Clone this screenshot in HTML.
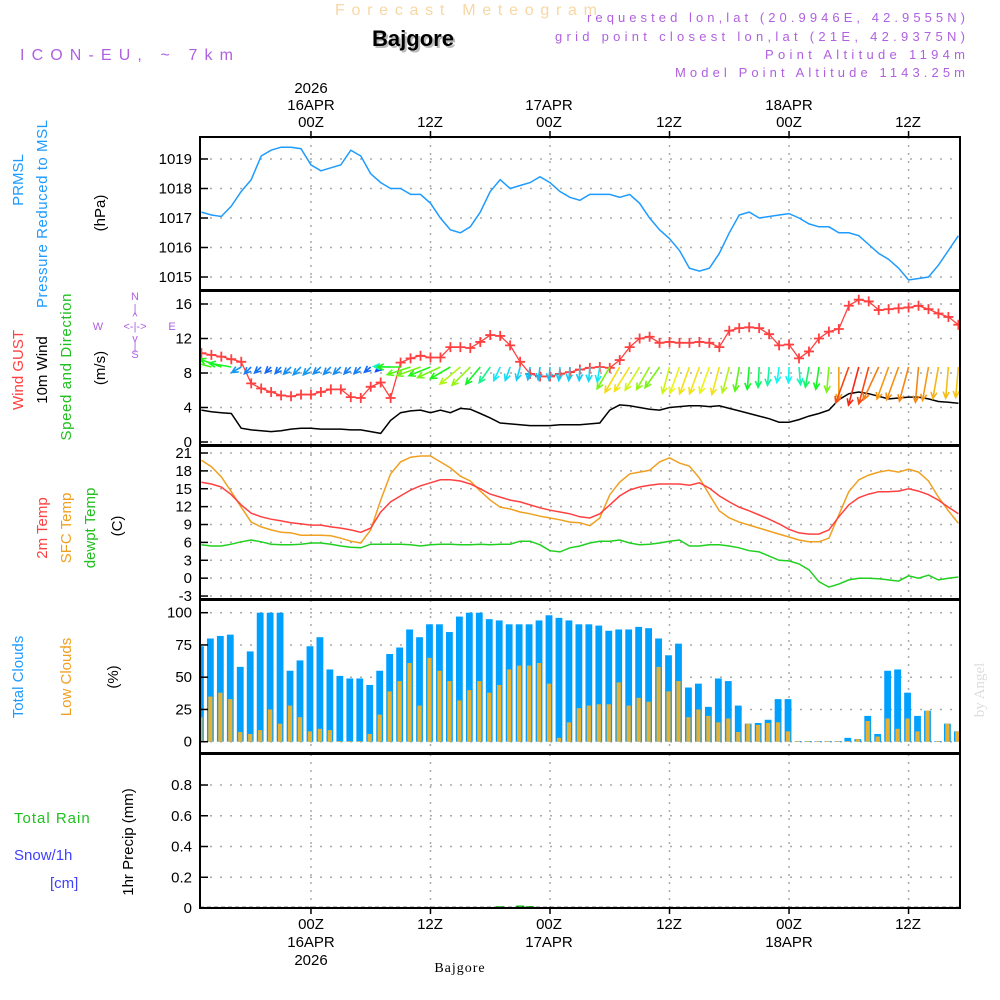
<!DOCTYPE html>
<html><head><meta charset="utf-8"><title>Meteogram Bajgore</title>
<style>
html,body{margin:0;padding:0;background:#fff;}
svg{display:block;font-family:"Liberation Sans",sans-serif;}
</style></head>
<body>
<svg id="chart" width="1000" height="1000" viewBox="0 0 1000 1000" xmlns="http://www.w3.org/2000/svg">
<defs>
<clipPath id="cp1"><rect x="200" y="137" width="760" height="153"/></clipPath>
<clipPath id="cp2"><rect x="200" y="291" width="760" height="154"/></clipPath>
<clipPath id="cp3"><rect x="200" y="446" width="760" height="153"/></clipPath>
<clipPath id="cp4"><rect x="200" y="600" width="760" height="153"/></clipPath>
<clipPath id="cp5"><rect x="200" y="754" width="760" height="154"/></clipPath>
</defs>
<rect x="0" y="0" width="1000" height="1000" fill="#fff"/>
<text x="335" y="15" font-size="16" textLength="262" lengthAdjust="spacing" fill="#f7d7a4">Forecast Meteogram</text>
<text x="415" y="48" text-anchor="middle" font-size="22" font-weight="bold" fill="#bbb">Bajgore</text>
<text x="413" y="46" text-anchor="middle" font-size="22" font-weight="bold" fill="#000">Bajgore</text>
<text x="20" y="60" font-size="16" textLength="213" lengthAdjust="spacing" fill="#b060e0">ICON-EU, ~ 7km</text>
<g font-size="13" fill="#b060e0">
<text x="587" y="22" textLength="378" lengthAdjust="spacing">requested lon,lat (20.9946E, 42.9555N)</text>
<text x="555" y="41" textLength="410" lengthAdjust="spacing">grid point closest lon,lat (21E, 42.9375N)</text>
<text x="765" y="59" textLength="200" lengthAdjust="spacing">Point Altitude 1194m</text>
<text x="675" y="77" textLength="290" lengthAdjust="spacing">Model Point Altitude 1143.25m</text>
</g>
<g font-size="15" text-anchor="middle" fill="#000">
<text x="311" y="93">2026</text><text x="311" y="110">16APR</text><text x="311" y="127">00Z</text>
<text x="430" y="127">12Z</text>
<text x="549" y="110">17APR</text><text x="549" y="127">00Z</text>
<text x="669" y="127">12Z</text>
<text x="789" y="110">18APR</text><text x="789" y="127">00Z</text>
<text x="908" y="127">12Z</text>
</g>
<g font-size="15" text-anchor="middle" fill="#000">
<text x="311" y="929">00Z</text><text x="311" y="947">16APR</text><text x="311" y="965">2026</text>
<text x="430" y="929">12Z</text>
<text x="549" y="929">00Z</text><text x="549" y="947">17APR</text>
<text x="669" y="929">12Z</text>
<text x="789" y="929">00Z</text><text x="789" y="947">18APR</text>
<text x="908" y="929">12Z</text>
</g>
<text x="460" y="972" text-anchor="middle" font-size="14" font-family="Liberation Serif,serif" letter-spacing="1">Bajgore</text>
<text transform="translate(984,690) rotate(-90)" text-anchor="middle" font-size="15" font-family="Liberation Serif,serif" fill="#ddd">by Angel</text>

<g font-size="15">
<text transform="translate(23,180) rotate(-90)" text-anchor="middle" fill="#1e9bff">PRMSL</text>
<text transform="translate(47,214) rotate(-90)" text-anchor="middle" fill="#1e9bff" textLength="188" lengthAdjust="spacing">Pressure Reduced to MSL</text>
<text transform="translate(105,213) rotate(-90)" text-anchor="middle" fill="#000">(hPa)</text>
<text transform="translate(23,370) rotate(-90)" text-anchor="middle" fill="#ff4040">Wind GUST</text>
<text transform="translate(47,370) rotate(-90)" text-anchor="middle" fill="#000">10m Wind</text>
<text transform="translate(71,367) rotate(-90)" text-anchor="middle" fill="#20c020" textLength="147" lengthAdjust="spacing">Speed and Direction</text>
<text transform="translate(105,368) rotate(-90)" text-anchor="middle" fill="#000">(m/s)</text>
<text transform="translate(47,528) rotate(-90)" text-anchor="middle" fill="#ff4040">2m Temp</text>
<text transform="translate(71,528) rotate(-90)" text-anchor="middle" fill="#f0a020">SFC Temp</text>
<text transform="translate(95,528) rotate(-90)" text-anchor="middle" fill="#20c020">dewpt Temp</text>
<text transform="translate(122,526) rotate(-90)" text-anchor="middle" fill="#000">(C)</text>
<text transform="translate(23,677) rotate(-90)" text-anchor="middle" fill="#1e9bff">Total Clouds</text>
<text transform="translate(71,677) rotate(-90)" text-anchor="middle" fill="#f0a020">Low Clouds</text>
<text transform="translate(118,677) rotate(-90)" text-anchor="middle" fill="#000">(%)</text>
<text x="14" y="823" fill="#20c020" letter-spacing="1">Total  Rain</text>
<text x="14" y="860" fill="#4040ff">Snow/1h</text>
<text x="50" y="888" fill="#4040ff">[cm]</text>
<text transform="translate(133,842) rotate(-90)" text-anchor="middle" fill="#000">1hr Precip (mm)</text>
</g>
<g font-size="11" fill="#b060e0" text-anchor="middle">
<text x="135" y="300">N</text><text x="135" y="312">|</text><text x="135" y="320">^</text>
<text x="98" y="330">W</text><text x="135" y="330">&lt;-|-&gt;</text><text x="172" y="330">E</text>
<text x="135" y="342">v</text><text x="135" y="350">|</text><text x="135" y="358">S</text>
</g>
<g id="plot"></g>
</svg>
<script>
// ---------- data (hourly, starting 13Z 15APR) ----------
const pressure = [1017.2,1017.1,1017.05,1017.4,1017.9,1018.3,1019.1,1019.3,1019.4,1019.4,1019.35,1018.8,1018.6,1018.7,1018.8,1019.3,1019.1,1018.5,1018.2,1018.0,1018.0,1017.8,1017.8,1017.5,1017.0,1016.6,1016.5,1016.7,1017.2,1017.9,1018.3,1018.0,1018.1,1018.2,1018.4,1018.2,1017.9,1017.7,1017.6,1017.8,1017.8,1017.8,1017.7,1017.8,1017.5,1017.0,1016.6,1016.3,1015.9,1015.3,1015.2,1015.3,1015.8,1016.5,1017.1,1017.2,1017.0,1017.05,1017.1,1017.15,1017.0,1016.8,1016.7,1016.7,1016.5,1016.5,1016.4,1016.1,1015.8,1015.6,1015.3,1014.9,1014.95,1015.0,1015.4,1015.9,1016.4];
const windSpeed = [3.7,3.5,3.4,3.3,1.6,1.4,1.3,1.2,1.3,1.5,1.6,1.6,1.5,1.5,1.5,1.4,1.4,1.2,1.0,2.5,3.4,3.6,3.7,3.4,3.7,3.4,3.9,3.8,3.3,2.8,2.2,2.1,2.0,1.9,1.9,1.9,2.0,2.0,2.0,2.1,2.2,3.7,4.3,4.2,4.0,3.8,3.7,4.0,4.1,4.2,4.2,4.1,4.2,3.9,3.6,3.3,3.0,2.7,2.3,2.3,2.6,3.0,3.3,3.7,4.9,5.6,5.8,5.6,5.3,5.0,5.1,5.2,5.2,5.0,4.7,4.6,4.5];
const windGust = [10.3,10.1,9.9,9.6,9.3,6.8,6.2,5.8,5.4,5.3,5.5,5.5,5.8,6.1,6.1,5.2,5.1,6.4,6.9,5.1,9.2,9.7,10.0,9.8,9.8,11.0,11.0,10.9,11.6,12.4,12.3,11.2,9.3,7.9,7.6,7.6,7.9,8.1,8.4,8.6,8.7,8.6,9.5,11.0,12.0,12.2,11.5,11.6,11.5,11.5,11.6,11.5,11.0,12.9,13.2,13.3,13.2,12.5,11.2,11.3,9.7,10.5,12.0,12.8,13.1,15.8,16.5,16.3,15.3,15.4,15.5,15.6,15.8,15.4,14.9,14.5,13.6];
const windDir = [105,105,110,100,60,45,48,45,42,46,45,44,48,45,46,44,45,50,48,92,90,72,70,68,65,60,50,45,40,35,25,20,15,10,8,5,5,5,3,5,10,30,30,32,32,30,35,15,20,20,20,20,15,15,10,5,3,5,8,2,355,10,8,5,0,20,15,15,25,20,20,15,5,10,10,5,5];
const temp2m = [16.1,15.8,15.3,14.0,12.3,10.9,10.3,9.9,9.6,9.3,9.1,8.9,8.9,8.6,8.4,8.1,7.7,8.4,11.1,12.8,13.8,14.8,15.5,16.0,16.5,16.5,16.3,15.8,15.0,14.1,13.6,13.1,12.8,12.3,11.8,11.4,11.1,10.8,10.3,10.1,10.8,12.3,13.8,14.8,15.3,15.6,15.8,15.8,15.8,15.6,16.0,15.1,13.8,12.8,11.9,11.3,10.6,9.9,9.1,8.2,7.6,7.4,7.4,8.1,10.3,12.3,13.5,14.1,14.5,14.5,14.6,15.0,14.6,14.0,13.1,11.9,10.8];
const tempSfc = [19.8,18.7,17.0,14.5,11.9,9.4,8.6,8.1,7.7,7.6,7.2,7.2,7.2,7.1,6.7,6.2,5.9,8.1,13.1,17.5,19.5,20.3,20.5,20.5,19.5,18.5,17.1,16.3,14.6,13.1,11.9,11.6,11.1,10.8,10.4,10.1,9.8,9.4,9.3,8.8,10.1,14.0,16.1,17.5,17.8,18.1,19.5,20.2,19.3,18.8,16.8,14.0,11.3,10.1,9.4,8.9,8.4,7.9,7.4,6.9,6.4,6.1,6.1,6.7,10.6,14.5,16.5,17.3,17.8,18.1,17.8,18.3,17.8,16.3,13.6,11.3,9.2];
const dewpoint = [5.6,5.4,5.4,5.7,6.1,6.4,6.1,5.7,5.6,5.6,5.7,5.9,5.9,5.7,5.4,5.2,5.1,5.7,5.7,5.7,5.7,5.6,5.4,5.6,5.7,5.7,5.6,5.6,5.7,5.6,5.7,5.7,6.2,6.2,5.6,4.6,4.4,5.1,5.4,5.9,6.2,6.2,6.4,5.9,5.6,5.7,5.9,6.2,6.4,5.4,5.4,5.6,5.6,5.4,5.1,4.6,4.4,3.7,3.0,2.9,2.4,1.4,-0.6,-1.5,-1.0,-0.3,0.0,0.0,-0.1,-0.3,-0.5,0.4,0.0,0.5,-0.3,0.0,0.2];
const totalClouds = [74,80,82,83,58,70,100,100,100,55,63,74,81,56,51,49,49,44,55,68,73,87,81,91,91,85,97,100,100,95,94,91,91,91,94,98,96,94,91,91,90,86,87,87,89,88,80,67,76,42,45,27,49,47,28,14,14.5,17,33,33,0.5,0.5,0.5,0.5,0.5,3,2,20,6,55,56,38,20,24,0.5,14,8];
const lowClouds = [19,35,38,33,7.5,6,9,25,14,28,19,8,10,9,0.5,0.5,0.5,6,21,39,47,61,28,65,55,47,32,40,47,38,44,56,59,59,61,45,3,15,26,28,29,29,46,28,34,31,58,39,47,19,25,20,15,18,7.5,14,13,14.5,15,8,0.5,0.5,0.5,0.5,0.5,0.5,2,16,4,18,10,18,8,24,0.5,14,8];
const precip = [0,0,0,0,0,0,0,0,0,0,0,0,0,0,0,0,0,0,0,0,0,0,0,0,0,0,0,0,0,0,0.005,0,0.01,0.006,0,0,0,0,0,0,0,0,0,0,0,0,0,0,0,0,0,0,0,0,0,0,0,0,0,0,0,0,0,0,0,0,0,0,0,0,0,0,0,0,0,0,0];
const pressureTicks = [1015,1016,1017,1018,1019];
const windTicks = [0,4,8,12,16];
const tempTicks = [-3,0,3,6,9,12,15,18,21];
const cloudTicks = [0,25,50,75,100];
const precipTicks = [0,0.2,0.4,0.6,0.8];
const hourTicks = [11,23,35,47,59,71];
const speedStops = [0,1,2.3,3.3,4.2,5.3,5.8,10];
const hueStops = [240,225,180,125,55,28,5,0];

// ---------- scales ----------
const xh = i => 201.4 + 9.96 * i;
const yP = v => 159 + (1019 - v) * 29.5;
const yW = v => 442 - v * 8.625;
const yT = v => 453 + (21 - v) * 5.96;
const yC = v => 741.7 - v * 1.29;
const yR = v => 908 - v * 153.75;
function hueFor(s) {
  for (let k = 1; k < speedStops.length; k++) {
    if (s <= speedStops[k]) {
      const f = (s - speedStops[k-1]) / (speedStops[k] - speedStops[k-1]);
      return hueStops[k-1] + f * (hueStops[k] - hueStops[k-1]);
    }
  }
  return 0;
}

const NS = 'http://www.w3.org/2000/svg';
const plot = document.getElementById('plot');
function add(parent, tag, attrs, name) {
  const el = document.createElementNS(NS, tag);
  for (const k in attrs) el.setAttribute(k, attrs[k]);
  
  
  parent.appendChild(el);
  return el;
}
const panels = [
  {top:137, bot:290, ticks:pressureTicks, y:yP, clip:'cp1', name:'pressure', fmt:v=>String(v)},
  {top:291, bot:445, ticks:windTicks, y:yW, clip:'cp2', name:'wind', fmt:v=>String(v)},
  {top:446, bot:599, ticks:tempTicks, y:yT, clip:'cp3', name:'temp', fmt:v=>String(v)},
  {top:600, bot:753, ticks:cloudTicks, y:yC, clip:'cp4', name:'clouds', fmt:v=>String(v)},
  {top:754, bot:908, ticks:precipTicks, y:yR, clip:'cp5', name:'precip', fmt:v=>v===0?'0':v.toFixed(1)}
];
const groups = [];
panels.forEach(p => {
  const g = add(plot, 'g', {'clip-path':'url(#'+p.clip+')'}, p.name+'-panel');
  groups.push(g);
  p.ticks.forEach(t => {
    add(g, 'line', {x1:200, x2:960, y1:p.y(t), y2:p.y(t), stroke:'#aaa', 'stroke-width':1.5, 'stroke-dasharray':'2,8'}, p.name+'-gridline');
  });
  hourTicks.forEach(h => {
    add(g, 'line', {x1:xh(h), x2:xh(h), y1:p.top, y2:p.bot, stroke:'#aaa', 'stroke-width':1.5, 'stroke-dasharray':'2,6'}, p.name+'-time-gridline');
  });
});
panels.forEach(p => {
  p.ticks.forEach(t => {
    const tl = add(plot, 'text', {x:192, y:p.y(t)+5, 'text-anchor':'end', 'font-size':15}, p.name+'-tick-label');
    tl.textContent = p.fmt(t);
    add(plot, 'line', {x1:200, x2:208, y1:p.y(t), y2:p.y(t), stroke:'#000', 'stroke-width':1.5}, p.name+'-tick');
  });
});
const line = (arr, fy) => arr.map((v, i) => (i ? 'L' : 'M') + xh(i).toFixed(1) + ',' + fy(v).toFixed(1)).join('');

// pressure
add(groups[0], 'path', {d:line(pressure, yP), fill:'none', stroke:'#1e9bff', 'stroke-width':1.5}, 'pressure-line');

// wind
add(groups[1], 'path', {d:line(windGust, yW), fill:'none', stroke:'#ff4040', 'stroke-width':1.3}, 'gust-line');
windGust.forEach((v, i) => {
  const x = xh(i), y = yW(v);
  add(groups[1], 'path', {d:`M${x-5},${y}H${x+5}M${x},${y-5}V${y+5}`, stroke:'#ff4040', 'stroke-width':1.8}, 'gust-marker');
});
add(groups[1], 'path', {d:line(windSpeed, yW), fill:'none', stroke:'#000', 'stroke-width':1.5}, 'wind-speed-line');
windSpeed.forEach((s, i) => {
  const d = windDir[i] * Math.PI / 180;
  const L = 6.8 * s;
  const x0 = xh(i), y0 = 367;
  const dx = -Math.sin(d), dy = Math.cos(d);
  const x1 = x0 + L * dx, y1 = y0 + L * dy;
  const hue = hueFor(s);
  const col = `hsl(${hue},92%,52%)`;
  const a = 0.45, hl = 7;
  const hx1 = x1 - hl * (dx * Math.cos(a) - dy * Math.sin(a));
  const hy1 = y1 - hl * (dy * Math.cos(a) + dx * Math.sin(a));
  const hx2 = x1 - hl * (dx * Math.cos(a) + dy * Math.sin(a));
  const hy2 = y1 - hl * (dy * Math.cos(a) - dx * Math.sin(a));
  add(groups[1], 'path', {d:`M${x0},${y0}L${x1},${y1}M${hx1},${hy1}L${x1},${y1}L${hx2},${hy2}`, fill:'none', stroke:col, 'stroke-width':1.6}, 'wind-arrow');
});

// temperature
add(groups[2], 'path', {d:line(tempSfc, yT), fill:'none', stroke:'#f0a020', 'stroke-width':1.5}, 'sfc-temp-line');
add(groups[2], 'path', {d:line(temp2m, yT), fill:'none', stroke:'#ff4040', 'stroke-width':1.5}, 'temp-2m-line');
add(groups[2], 'path', {d:line(dewpoint, yT), fill:'none', stroke:'#20d020', 'stroke-width':1.5}, 'dewpoint-line');

// clouds
totalClouds.forEach((v, i) => {
  const x = xh(i) - 1;
  add(groups[3], 'rect', {x:x-3.4, y:yC(v), width:6.8, height:yC(0)-yC(v), fill:'#00a0ff'}, 'total-cloud-bar');
});
lowClouds.forEach((v, i) => {
  const x = xh(i) - 1;
  add(groups[3], 'rect', {x:x-2.1, y:yC(v), width:4.2, height:yC(0)-yC(v), fill:'#e8b030'}, 'low-cloud-bar');
});

// precip
precip.forEach((v, i) => {
  if (v <= 0) return;
  add(groups[4], 'rect', {x:xh(i)-4, y:yR(v)-1, width:8, height:yR(0)-yR(v)+1, fill:'#20c020'}, 'rain-bar');
});
add(groups[4], 'line', {x1:200, x2:960, y1:yR(0)-0.5, y2:yR(0)-0.5, stroke:'#000', 'stroke-width':1.5, 'stroke-dasharray':'4,3'}, 'precip-zero-line');

// frames
panels.forEach(p => {
  add(plot, 'rect', {x:200, y:p.top, width:760, height:p.bot-p.top, fill:'none', stroke:'#000', 'stroke-width':2}, p.name+'-frame');
});
hourTicks.forEach(h => {
  add(plot, 'line', {x1:xh(h), x2:xh(h), y1:131, y2:137, stroke:'#000', 'stroke-width':1.5}, 'top-time-tick');
  add(plot, 'line', {x1:xh(h), x2:xh(h), y1:908, y2:914, stroke:'#000', 'stroke-width':1.5}, 'bottom-time-tick');
});
</script>
</body></html>
